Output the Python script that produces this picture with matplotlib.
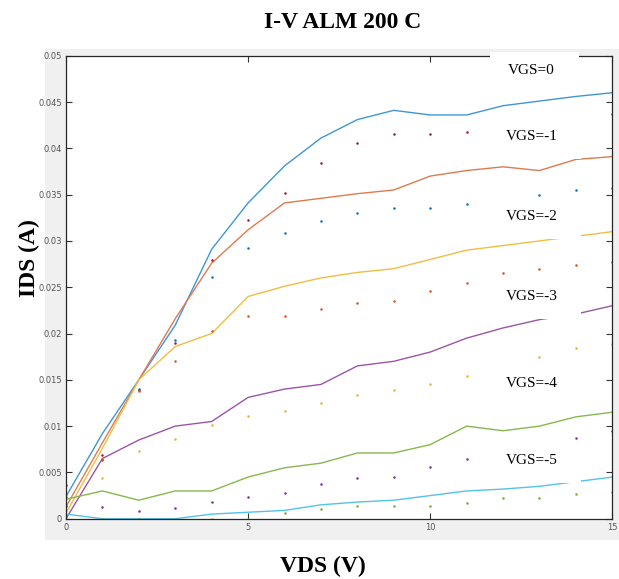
import matplotlib

matplotlib.use("Agg")
import matplotlib.pyplot as plt
from matplotlib.patches import Rectangle
from matplotlib.path import Path

# drain voltage (V)
vds = list(range(16))

# measured curves (lines), one per gate voltage
ids_vgs0 = [0.0024, 0.0092, 0.0150, 0.0209, 0.0291, 0.0341, 0.0381, 0.0411,
            0.0431, 0.0441, 0.0436, 0.0436, 0.0446, 0.0451, 0.0456, 0.0460]
ids_vgs1 = [0.0013, 0.0082, 0.0150, 0.0216, 0.0276, 0.0312, 0.0341, 0.0346,
            0.0351, 0.0355, 0.0370, 0.0376, 0.0380, 0.0376, 0.0388, 0.0391]
ids_vgs2 = [0.0006, 0.0076, 0.0150, 0.0186, 0.0200, 0.0240, 0.0251, 0.0260,
            0.0266, 0.0270, 0.0280, 0.0290, 0.0295, 0.0300, 0.0305, 0.0310]
ids_vgs3 = [0.0000, 0.0065, 0.0085, 0.0100, 0.0105, 0.0131, 0.0140, 0.0145,
            0.0165, 0.0170, 0.0180, 0.0195, 0.0206, 0.0215, 0.0221, 0.0230]
ids_vgs4 = [0.0021, 0.0030, 0.0020, 0.0030, 0.0030, 0.0045, 0.0055, 0.0060,
            0.0071, 0.0071, 0.0080, 0.0100, 0.0095, 0.0100, 0.0110, 0.0115]
ids_vgs5 = [0.0005, 0.0000, 0.0000, 0.0000, 0.0005, 0.0007, 0.0009, 0.0015,
            0.0018, 0.0020, 0.0025, 0.0030, 0.0032, 0.0035, 0.0040, 0.0045]

# second data set (dots)
dots_vgs0 = [0.0036, 0.0069, 0.0139, 0.0190, 0.0279, 0.0323, 0.0352, 0.0384,
             0.0406, 0.0415, 0.0415, 0.0418, 0.0421, 0.0425, 0.0431, 0.0437]
dots_vgs1 = [0.0023, 0.0063, 0.0140, 0.0193, 0.0261, 0.0292, 0.0309, 0.0321,
             0.0330, 0.0335, 0.0335, 0.0340, 0.0345, 0.0350, 0.0355, 0.0357]
dots_vgs2 = [0.0027, 0.0065, 0.0138, 0.0170, 0.0203, 0.0219, 0.0219, 0.0226,
             0.0233, 0.0235, 0.0246, 0.0255, 0.0265, 0.0270, 0.0274, 0.0277]
dots_vgs3 = [0.0022, 0.0044, 0.0073, 0.0086, 0.0101, 0.0111, 0.0116, 0.0125,
             0.0134, 0.0139, 0.0145, 0.0154, 0.0165, 0.0175, 0.0184, 0.0189]
dots_vgs4 = [0.0014, 0.0013, 0.0008, 0.0012, 0.0018, 0.0024, 0.0028, 0.0037,
             0.0044, 0.0045, 0.0056, 0.0065, 0.0072, 0.0080, 0.0087, 0.0095]
dots_vgs5 = [0.0000, 0.0000, 0.0000, 0.0000, 0.0000, 0.0000, 0.0006, 0.0010,
             0.0014, 0.0014, 0.0014, 0.0017, 0.0022, 0.0022, 0.0027, 0.0029]

curve_labels = ["VGS=0", "VGS=-1", "VGS=-2", "VGS=-3", "VGS=-4", "VGS=-5"]
label_y = [0.0484, 0.04125, 0.0326, 0.0240, 0.0146, 0.0063]
label_x = 12.78

lines = [ids_vgs0, ids_vgs1, ids_vgs2, ids_vgs3, ids_vgs4, ids_vgs5]
dots = [dots_vgs0, dots_vgs1, dots_vgs2, dots_vgs3, dots_vgs4, dots_vgs5]

line_colors = ["#3d97d6", "#e07a4e", "#f0bd45", "#9a55a6", "#86b84c", "#52c2ec"]
dot_colors = ["#a2142f", "#0072bd", "#d95319", "#edb120", "#7e2f8e", "#77ac30"]


def wide_box(x0, y0, width, height, mutation_size):
    # white label box: wider than tall, nudged a little right and down
    hp, vp, dx, dy = 21, 14, 3, -2
    x0, x1 = x0 - hp + dx, x0 + width + hp + dx
    y0, y1 = y0 - vp + dy, y0 + height + vp + dy
    return Path([(x0, y0), (x1, y0), (x1, y1), (x0, y1), (x0, y0)], closed=True)


fig = plt.figure(figsize=(6.19, 5.79), dpi=100)
bg = Rectangle((0.0727, 0.0674), 0.9273, 0.848, transform=fig.transFigure,
               facecolor="#f0f0f0", edgecolor="none", zorder=-10)
fig.add_artist(bg)
ax = fig.add_axes([0.1066, 0.1041, 0.8826, 0.7997])
ax.set_facecolor("white")

for y, c in zip(lines, line_colors):
    ax.plot(vds, y, color=c, lw=1.0)
for y, c in zip(dots, dot_colors):
    ax.plot(vds, y, ls="none", marker="o", ms=1.8, mec="none", color=c)

for lab, ly in zip(curve_labels, label_y):
    ax.text(label_x, ly, lab, ha="center", va="center", fontsize=11,
            family="Liberation Serif", clip_on=False,
            bbox=dict(boxstyle=wide_box, fc="white", ec="none"))

ax.set_xlim(0, 15)
ax.set_ylim(0, 0.05)
ax.set_xticks([0, 5, 10, 15])
ax.set_yticks([i * 0.005 for i in range(11)])
ax.set_yticklabels(["0"] + [f"{i * 0.005:g}" for i in range(1, 11)])
ax.tick_params(direction="in", length=4, width=0.8, top=True, right=True,
               labelsize=6, labelcolor="#555555", color="#333333", pad=3)
for t in ax.get_xticklabels() + ax.get_yticklabels():
    t.set_family(["Liberation Sans Narrow", "DejaVu Sans"])
for s in ax.spines.values():
    s.set_color("#262626")
    s.set_linewidth(0.9)

fig.text(0.553, 0.962, "I-V ALM 200 C", ha="center", va="center", fontsize=17,
         fontweight="bold", family="Liberation Serif")
fig.text(0.522, 0.021, "VDS (V)", ha="center", va="center", fontsize=17,
         fontweight="bold", family="Liberation Serif")
fig.text(0.048, 0.554, "IDS (A)", ha="center", va="center", rotation=90, fontsize=17,
         fontweight="bold", family="Liberation Serif")

fig.savefig("out.png", dpi=100)
